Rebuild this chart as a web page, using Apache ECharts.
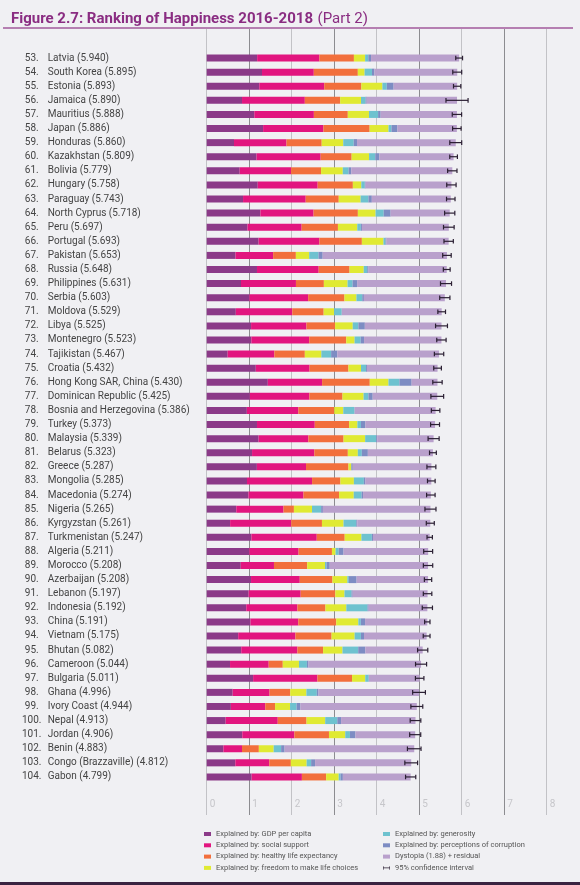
<!DOCTYPE html>
<html><head><meta charset="utf-8">
<script src="https://cdn.jsdelivr.net/npm/echarts/dist/echarts.min.js"></script>
<style>html,body{margin:0;padding:0;background:#f0f0f3;}#c{width:580px;height:885px;}</style>
</head><body><div id="c"></div>
<script>
const ranks = [53,54,55,56,57,58,59,60,61,62,63,64,65,66,67,68,69,70,71,72,73,74,75,76,77,78,79,80,81,82,83,84,85,86,87,88,89,90,91,92,93,94,95,96,97,98,99,100,101,102,103,104];
const countries = ['Latvia','South Korea','Estonia','Jamaica','Mauritius','Japan','Honduras','Kazakhstan','Bolivia','Hungary','Paraguay','North Cyprus','Peru','Portugal','Pakistan','Russia','Philippines','Serbia','Moldova','Libya','Montenegro','Tajikistan','Croatia','Hong Kong SAR, China','Dominican Republic','Bosnia and Herzegovina','Turkey','Malaysia','Belarus','Greece','Mongolia','Macedonia','Nigeria','Kyrgyzstan','Turkmenistan','Algeria','Morocco','Azerbaijan','Lebanon','Indonesia','China','Vietnam','Bhutan','Cameroon','Bulgaria','Ghana','Ivory Coast','Nepal','Jordan','Benin','Congo (Brazzaville)','Gabon'];
const scores = ['5.940','5.895','5.893','5.890','5.888','5.886','5.860','5.809','5.779','5.758','5.743','5.718','5.697','5.693','5.653','5.648','5.631','5.603','5.529','5.525','5.523','5.467','5.432','5.430','5.425','5.386','5.373','5.339','5.323','5.287','5.285','5.274','5.265','5.261','5.247','5.211','5.208','5.208','5.197','5.192','5.191','5.175','5.082','5.044','5.011','4.996','4.944','4.913','4.906','4.883','4.812','4.799'];
const gdp = [1.187,1.301,1.237,0.831,1.120,1.327,0.642,1.173,0.776,1.201,0.855,1.263,0.960,1.221,0.677,1.183,0.807,1.004,0.685,1.044,1.051,0.493,1.155,1.438,1.015,0.945,1.183,1.221,1.067,1.181,0.948,0.983,0.696,0.551,1.052,1.002,0.801,1.043,0.987,0.931,1.029,0.741,0.813,0.549,1.092,0.611,0.569,0.446,0.837,0.393,0.673,1.057];
const social = [1.465,1.219,1.528,1.478,1.402,1.419,1.236,1.508,1.209,1.410,1.475,1.252,1.274,1.431,0.886,1.452,1.293,1.383,1.328,1.303,1.361,1.098,1.266,1.277,1.401,1.212,1.360,1.171,1.465,1.156,1.531,1.294,1.111,1.438,1.538,1.160,0.782,1.147,1.224,1.203,1.125,1.346,1.321,0.910,1.513,0.868,0.808,1.226,1.225,0.437,0.799,1.183];
const health = [0.812,1.036,0.874,0.831,0.798,1.088,0.828,0.729,0.706,0.828,0.777,1.042,0.854,0.999,0.535,0.726,0.657,0.854,0.739,0.673,0.871,0.718,0.914,1.122,0.779,0.845,0.808,0.828,0.789,0.999,0.667,0.838,0.245,0.723,0.657,0.785,0.782,0.769,0.815,0.660,0.893,0.851,0.604,0.331,0.815,0.486,0.232,0.677,0.815,0.397,0.508,0.571];
const freedom = [0.264,0.159,0.495,0.490,0.498,0.445,0.507,0.410,0.511,0.199,0.514,0.417,0.455,0.508,0.313,0.334,0.558,0.282,0.245,0.416,0.197,0.389,0.296,0.440,0.497,0.212,0.195,0.508,0.235,0.067,0.317,0.345,0.426,0.508,0.394,0.086,0.418,0.351,0.216,0.491,0.521,0.543,0.457,0.381,0.311,0.381,0.352,0.439,0.383,0.349,0.372,0.295];
const generosity = [0.075,0.175,0.103,0.107,0.215,0.069,0.246,0.146,0.137,0.081,0.184,0.191,0.083,0.047,0.220,0.082,0.117,0.137,0.181,0.133,0.142,0.230,0.119,0.258,0.113,0.263,0.083,0.260,0.094,0.000,0.235,0.185,0.215,0.300,0.244,0.073,0.036,0.035,0.166,0.498,0.058,0.147,0.370,0.187,0.081,0.245,0.154,0.285,0.110,0.175,0.105,0.043];
const corruption = [0.064,0.056,0.161,0.028,0.060,0.140,0.078,0.096,0.064,0.020,0.080,0.162,0.027,0.025,0.098,0.031,0.107,0.039,0.000,0.152,0.080,0.144,0.022,0.287,0.101,0.006,0.106,0.024,0.142,0.034,0.038,0.034,0.041,0.023,0.028,0.114,0.076,0.182,0.027,0.028,0.100,0.073,0.167,0.037,0.004,0.040,0.090,0.089,0.130,0.082,0.093,0.055];
const dystopia = [2.073,1.949,1.495,2.125,1.795,1.398,2.323,1.747,2.376,2.019,1.858,1.391,2.044,1.462,2.924,1.840,2.092,1.904,2.351,1.804,1.821,2.395,1.660,0.608,1.519,1.903,1.638,1.327,1.531,1.850,1.549,1.595,2.531,1.718,1.334,1.991,2.313,1.681,1.762,1.381,1.465,1.474,1.350,2.649,1.195,2.365,2.739,1.751,1.406,3.050,2.262,1.595];
const ciHalf = [0.08,0.105,0.086,0.26,0.11,0.10,0.14,0.09,0.11,0.11,0.10,0.12,0.125,0.11,0.10,0.08,0.13,0.12,0.09,0.14,0.11,0.11,0.09,0.11,0.15,0.10,0.105,0.13,0.08,0.105,0.09,0.10,0.13,0.094,0.063,0.105,0.11,0.086,0.10,0.12,0.063,0.08,0.12,0.13,0.10,0.15,0.14,0.125,0.13,0.16,0.15,0.12];
const xTicks = [0,1,2,3,4,5,6,7,8];

const segNames = ['Explained by: GDP per capita','Explained by: social support','Explained by: healthy life expectancy','Explained by: freedom to make life choices','Explained by: generosity','Explained by: perceptions of corruption','Dystopia (1.88) + residual'];
const segColors = ['#8b3a88','#e2157f','#f26f3c','#e0ea33','#6ec2cf','#7d8cc3','#b9a0cc'];
const segData = [gdp, social, health, freedom, generosity, corruption, dystopia];
const ciName = '95% confidence interval';

const chart = echarts.init(document.getElementById('c'), null, {renderer:'canvas'});
const FONT = 'Roboto';

const barSeries = segNames.map((n,k)=>({
  name:n, type:'bar', stack:'all', xAxisIndex:1, yAxisIndex:1,
  barWidth:7, itemStyle:{color:segColors[k]}, data:segData[k], silent:true
}));

const ciSeries = {
  name: ciName, type:'custom', xAxisIndex:1, yAxisIndex:1, z:5,
  itemStyle:{color:'#2b1f33'},
  encode:{x:[0,1], y:2},
  data: countries.map((c,i)=>[+scores[i]-ciHalf[i], +scores[i]+ciHalf[i], i]),
  renderItem(params, api){
    const y = api.value(2);
    const p1 = api.coord([api.value(0), y]);
    const p2 = api.coord([api.value(1), y]);
    const h = 2.3;
    const st = {stroke:'#2b1f33', lineWidth:1.2};
    return {type:'group', children:[
      {type:'line', shape:{x1:p1[0],y1:p1[1],x2:p2[0],y2:p2[1]}, style:st},
      {type:'line', shape:{x1:p1[0],y1:p1[1]-h,x2:p1[0],y2:p1[1]+h}, style:st},
      {type:'line', shape:{x1:p2[0],y1:p2[1]-h,x2:p2[0],y2:p2[1]+h}, style:st}
    ]};
  }
};

const legendCommon = {
  orient:'vertical', itemWidth:7, itemHeight:4, itemGap:3.3, padding:0,
  textStyle:{fontFamily:FONT, fontSize:7.5, color:'#555', lineHeight:7.8},
  selectedMode:false
};

chart.setOption({
  backgroundColor:'#f0f0f3',
  animation:false,
  textStyle:{fontFamily:FONT},
  title:{
    left:6, top:5,
    text:'{b|Figure 2.7: Ranking of Happiness 2016-2018} {n|(Part 2)}',
    textStyle:{rich:{
      b:{fontFamily:FONT, fontSize:15, fontWeight:'bold', color:'#8a2d82'},
      n:{fontFamily:FONT, fontSize:15, fontWeight:'normal', color:'#8a2d82'}
    }}
  },
  grid:[
    {left:206.7, right:33.3, top:29, bottom:70},
    {left:206.7, right:33.3, top:51, bottom:101}
  ],
  xAxis:[
    {type:'value', gridIndex:0, min:0, max:8, interval:1,
     axisLine:{show:false}, axisTick:{show:false},
     splitLine:{show:true, lineStyle:{color:['#c2c2c6','#8c8c90'], width:1}},
     axisLabel:{inside:true, margin:6, align:'left', padding:[0,0,0,3], color:'#c6c6ca', fontSize:10, fontFamily:FONT,
       formatter:(v)=> xTicks.includes(v) ? String(v) : ''}
    },
    {type:'value', gridIndex:1, min:0, max:8, show:false, splitLine:{show:false}}
  ],
  yAxis:[
    {type:'value', gridIndex:0, show:false, splitLine:{show:false}},
    {type:'category', gridIndex:1, inverse:true, data:countries,
     axisLine:{show:false}, axisTick:{show:false},
     axisLabel:{
       align:'left', margin:183, interval:0,
       formatter:(v,i)=>`{r|${ranks[i]}.}{n|${v} (${scores[i]})}`,
       rich:{
         r:{fontFamily:FONT, fontSize:10, color:'#444', width:16, align:'right'},
         n:{fontFamily:FONT, fontSize:10, color:'#444', padding:[0,0,0,8]}
       }
     }
    }
  ],
  legend:[
    Object.assign({}, legendCommon, {left:204, top:830, data:segNames.slice(0,4).map(n=>({name:n, icon:'rect'}))}),
    Object.assign({}, legendCommon, {left:383, top:830, data:[
      {name:segNames[4], icon:'rect'},{name:segNames[5], icon:'rect'},{name:segNames[6], icon:'rect'},
      {name:ciName, icon:'path://M0,0h1.6v10h-1.6zM0,4.2h20v1.6h-20zM18.4,0h1.6v10h-1.6z', itemStyle:{color:'#2b1f33'}}
    ]})
  ],
  graphic:[
    {type:'line', shape:{x1:3, y1:28, x2:573, y2:28}, style:{stroke:'#a25a9b', lineWidth:1.5}},
    {type:'rect', shape:{x:0, y:882, width:580, height:3}, style:{fill:'#3a2340'}}
  ],
  series:[...barSeries, ciSeries]
});
</script>
</body></html>
